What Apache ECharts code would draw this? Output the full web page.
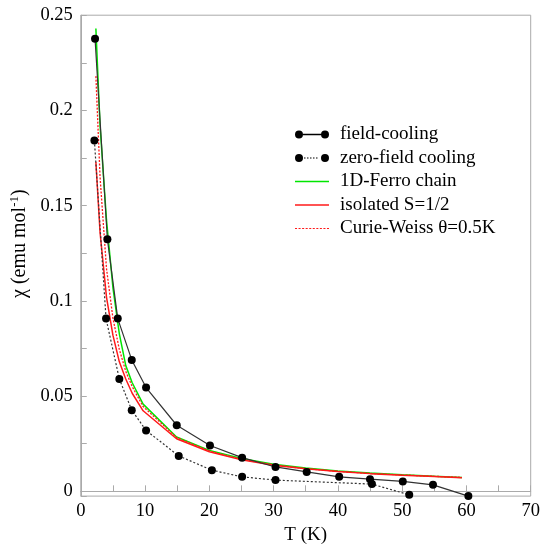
<!DOCTYPE html>
<html>
<head>
<meta charset="utf-8">
<script src="https://cdn.jsdelivr.net/npm/echarts@6/dist/echarts.min.js"></script>
<style>
  html, body { margin: 0; padding: 0; background: #fff; }
  #chart { width: 546px; height: 550px; }
</style>
</head>
<body>
<div id="chart"></div>
<script>
const fcT   = [2.22, 4.14, 5.75, 7.93, 10.16, 14.93, 20.1, 25.1, 30.3, 35.15, 40.2, 45.0, 50.1, 54.8, 60.3];
const fcChi = [0.2376, 0.1324, 0.0907, 0.0690, 0.0545, 0.0347, 0.0241, 0.0177, 0.0128, 0.0102, 0.0076, 0.0064, 0.0052, 0.0034, -0.0025];

const zfcT   = [2.12, 3.93, 6.0, 7.93, 10.16, 15.24, 20.4, 25.1, 30.3, 45.3, 51.1];
const zfcChi = [0.1842, 0.0907, 0.0590, 0.0426, 0.0320, 0.0186, 0.0111, 0.0076, 0.0059, 0.0038, -0.0018];

// model curves
const modelT   = [2.35, 3, 4, 5, 6, 7, 8, 9.7, 14.9, 20, 25, 30, 35, 40, 45, 50, 55, 59.3];
const ferroChi = [0.243, 0.192, 0.1425, 0.107, 0.0827, 0.066, 0.057, 0.0458, 0.0285, 0.0215, 0.0172, 0.0142, 0.0122, 0.0107, 0.0096, 0.0087, 0.0079, 0.0073];
const isoChi   = [0.173, 0.136, 0.102, 0.082, 0.068, 0.059, 0.0515, 0.0423, 0.0276, 0.0208, 0.0166, 0.0137, 0.0118, 0.0104, 0.0093, 0.0085, 0.0078, 0.0072];
const cwChi    = [0.218, 0.165, 0.117, 0.091, 0.0745, 0.063, 0.055, 0.0445, 0.0283, 0.0212, 0.0168, 0.0139, 0.0119, 0.0105, 0.0094, 0.0086, 0.0079, 0.0073];

const names = ['field-cooling', 'zero-field cooling', '1D-Ferro chain', 'isolated S=1/2', 'Curie-Weiss \u03b8=0.5K'];

function zip(xs, ys) {
  return xs.map((x, i) => [x, ys[i]]);
}

const FONT = 'Liberation Serif';
const AXIS_COLOR = '#aaaaaa';

// legend icons: line with a dot at each end
const dot = (cx) => 'M' + (cx - 4) + ',4A4,4,0,1,1,' + (cx + 4) + ',4A4,4,0,1,1,' + (cx - 4) + ',4Z';
function dashes(x0, x1, len, gap, y, h) {
  let p = '';
  for (let x = x0; x + len <= x1 + 0.01; x += len + gap) {
    p += 'M' + x + ',' + y + 'L' + (x + len) + ',' + y + 'L' + (x + len) + ',' + (y + h) + 'L' + x + ',' + (y + h) + 'Z';
  }
  return p;
}
const iconFC  = 'path://' + dot(4) + dot(30) + 'M8,3.35L26,3.35L26,4.65L8,4.65Z';
const iconZFC = 'path://' + dot(4) + dot(30) + dashes(9, 25, 1.5, 1.5, 3.4, 1.2);
const iconSolid  = 'path://M0,0L34,0L34,1.6L0,1.6Z';
const iconDotted = 'path://' + dashes(0, 34, 2, 1.5, 0, 1.2);

const option = {
  backgroundColor: '#ffffff',
  animation: false,
  grid: {
    left: 80.7, right: 15.3, top: 15.2, bottom: 50.7,
    show: true, borderColor: AXIS_COLOR, borderWidth: 1
  },
  legend: {
    orient: 'vertical',
    left: 295,
    top: 125,
    padding: 0,
    itemWidth: 34,
    itemHeight: 8,
    itemGap: 4.5,
    symbolKeepAspect: true,
    itemStyle: { borderWidth: 0 },
    textStyle: { fontFamily: FONT, fontSize: 19, color: '#000', padding: [0, 0, 0, 6] },
    data: [
      { name: names[0], icon: iconFC },
      { name: names[1], icon: iconZFC },
      { name: names[2], icon: iconSolid },
      { name: names[3], icon: iconSolid },
      { name: names[4], icon: iconDotted }
    ]
  },
  xAxis: {
    type: 'value',
    min: 0, max: 70, interval: 10,
    name: 'T (K)',
    nameLocation: 'middle',
    nameGap: 26,
    nameTextStyle: { fontFamily: FONT, fontSize: 19, color: '#000' },
    axisLine: { show: true, lineStyle: { color: AXIS_COLOR } },
    axisTick: { show: true, inside: true, length: 6, lineStyle: { color: AXIS_COLOR } },
    minorTick: { show: true, splitNumber: 2, length: 6, lineStyle: { color: AXIS_COLOR } },
    axisLabel: { fontFamily: FONT, fontSize: 18.5, color: '#000', margin: 6 },
    splitLine: { show: false }
  },
  yAxis: {
    type: 'value',
    min: -0.0025, max: 0.25,
    name: '{a|\u03c7 (emu mol}{s|-1}{a|)}',
    nameLocation: 'middle',
    nameGap: 46,
    nameTextStyle: {
      padding: [0, 0, 0, 24],
      rich: {
        a: { fontFamily: FONT, fontSize: 20, color: '#000' },
        s: { fontFamily: FONT, fontSize: 13, color: '#000', padding: [0, 0, 10, 0] }
      }
    },
    axisLine: { show: true, lineStyle: { color: AXIS_COLOR } },
    axisTick: { show: true, inside: true, length: 6, lineStyle: { color: AXIS_COLOR } },
    minorTick: { show: true, splitNumber: 2, length: 6, lineStyle: { color: AXIS_COLOR } },
    axisLabel: { fontFamily: FONT, fontSize: 18.5, color: '#000', margin: 8, showMinLabel: false },
    splitLine: { show: false }
  },
  series: [
    {
      name: names[2], type: 'line', symbol: 'none',
      data: zip(modelT, ferroChi),
      itemStyle: { color: '#00e600' },
      lineStyle: { color: '#00e600', width: 1.5 }
    },
    {
      name: names[3], type: 'line', symbol: 'none',
      data: zip(modelT, isoChi),
      itemStyle: { color: '#ff1a1a' },
      lineStyle: { color: '#ff1a1a', width: 1.5 }
    },
    {
      name: names[4], type: 'line', symbol: 'none',
      data: zip(modelT, cwChi),
      itemStyle: { color: '#ff1a1a' },
      lineStyle: { color: '#ff1a1a', width: 1.3, type: [2, 1.5] }
    },
    {
      name: names[0], type: 'line', symbol: 'circle', symbolSize: 8,
      data: zip(fcT, fcChi),
      itemStyle: { color: '#000' },
      lineStyle: { color: '#333', width: 1.2 }
    },
    {
      name: names[1], type: 'line', symbol: 'circle', symbolSize: 8,
      data: zip(zfcT, zfcChi),
      itemStyle: { color: '#000' },
      lineStyle: { color: '#333', width: 1.2, type: [2, 2] }
    }
  ]
};

const chart = echarts.init(document.getElementById('chart'));
chart.setOption(option);
</script>
</body>
</html>
